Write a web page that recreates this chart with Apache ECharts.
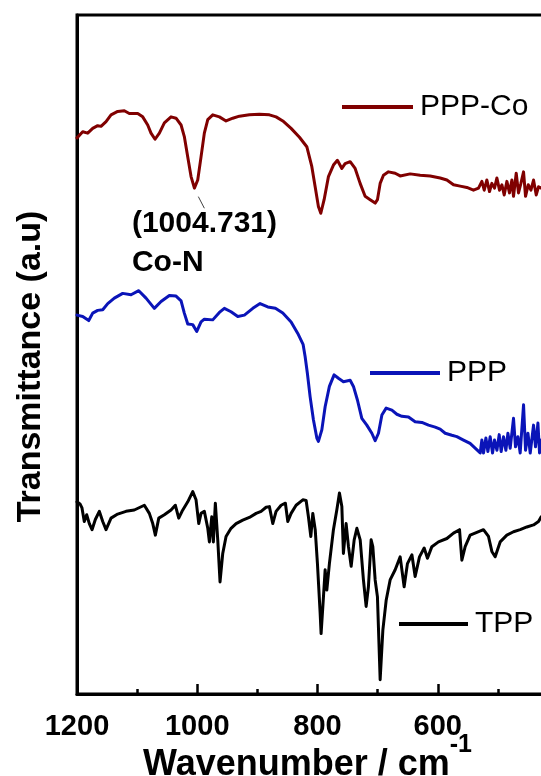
<!DOCTYPE html>
<html>
<head>
<meta charset="utf-8">
<script src="https://cdn.jsdelivr.net/npm/echarts@6/dist/echarts.min.js"></script>
<style>
  html, body { margin: 0; padding: 0; background: #ffffff; }
  #chart { width: 541px; height: 776px; }
</style>
</head>
<body>
<div id="chart"></div>
<script>
// FTIR spectra: [wavenumber (cm-1), transmittance (a.u., offset per sample)]
const pppCoSpectrum = [
  [1200,81.9],[1190.5,82.8],[1182.2,82.6],[1173.9,83.3],[1165.6,83.7],[1160.1,83.6],[1151.7,84.3],
  [1143.4,85.3],[1132.3,85.8],[1121.3,85.9],[1113,85.5],[1099,85.5],[1090.7,85.0],[1082.4,83.8],
  [1076.9,82.6],[1070.2,81.7],[1063,82.6],[1054.7,84.1],[1043.6,85.0],[1035.3,84.8],[1026.9,83.8],
  [1021.5,82.1],[1015.8,79.1],[1010.3,76.2],[1004.731,74.5],[999.2,75.7],[993.7,79.1],[988.2,82.6],
  [982.5,84.6],[974.2,85.3],[963.2,85.0],[952.1,84.4],[940.9,84.8],[929.9,85.1],[913.3,85.3],
  [896.7,85.4],[880,85.3],[868.9,85.0],[857.7,84.4],[843.9,83.3],[830,82.0],[817.8,80.6],
  [809.5,77.7],[803.9,74.7],[798.5,71.8],[794.5,70.8],[789,72.8],[781.8,76.2],[773.5,77.9],
  [766.9,78.6],[759.5,77.4],[754.1,78.1],[745.7,78.4],[737.4,77.4],[729.1,75.2],[720.8,73.3],
  [712.4,72.8],[704.1,72.3],[700.3,72.8],[695.8,75.2],[690.3,76.4],[682,76.9],[670.8,76.7],
  [662.5,76.3],[645.9,76.6],[629.2,76.4],[612.6,76.3],[596,76.0],[584.8,75.7],[573.8,75.0],
  [562.7,74.8],[551.6,74.6],[540.6,74.2],[532.2,74.5],[526.6,75.5],[522.7,74.2],[518.3,75.7],
  [513.9,74.0],[510,75.2],[505.6,74.5],[501.6,76.0],[497.3,74.2],[493.3,75.0],[489.5,73.5],
  [485,75.5],[480.7,73.8],[476.7,75.7],[474,73.3],[469.5,76.7],[465.7,73.8],[461.7,75.2],
  [457.3,76.9],[454,73.3],[449.5,75.0],[445,74.2],[440.7,75.7],[436.2,73.5],[432.4,74.7],
  [427.9,74.5],[423.7,74.9],[418,74.3]
];

const pppSpectrum = [
  [1200,55.8],[1190.5,55.6],[1180.5,55.0],[1173.9,56.1],[1165.6,56.5],[1157.2,56.6],[1148.9,57.5],
  [1137.9,58.3],[1124,59.0],[1110.1,58.8],[1097.3,59.4],[1085.2,58.3],[1071.4,56.8],[1060.2,57.8],
  [1046.4,58.7],[1035.3,58.6],[1026.9,57.9],[1021.5,56.1],[1015.8,54.5],[1007.5,54.4],[1000.8,53.4],
  [993.7,54.8],[988.2,55.2],[974.2,55.1],[963.2,56.2],[954.9,56.8],[943.8,56.3],[932.6,55.6],
  [921.6,55.8],[907.6,56.8],[895.5,57.5],[882.7,57.0],[870,56.8],[857.7,56.1],[843.9,54.8],
  [832.8,53.1],[824,51.5],[820.6,49.7],[816.8,47.2],[812.3,43.8],[806.8,40.4],[801.1,37.7],
  [798.5,37.2],[792.8,38.9],[787.3,42.3],[780.2,45.3],[772.4,47.0],[765.2,46.5],[756.9,46.0],
  [745.7,46.2],[740.2,45.3],[733.6,43.3],[726.3,40.6],[718,39.6],[709.6,38.4],[704.1,37.3],
  [698.6,38.4],[692.9,41.1],[685.8,42.1],[676.3,41.8],[668,41.2],[659.7,40.9],[648.7,40.8],
  [637.6,40.1],[626.4,40.0],[615.4,39.6],[604.3,39.3],[596,39.0],[587.6,38.4],[576.5,38.1],
  [568.2,37.9],[557.2,37.4],[546.2,36.9],[537.8,36.2],[529.4,35.5],[526.6,37.4],[523.9,35.5],
  [519.9,37.7],[516.6,35.7],[512.8,37.9],[508.9,35.5],[505.6,37.4],[501.6,35.9],[497.8,38.2],
  [494.5,35.7],[490.6,37.9],[486.7,35.9],[483.3,38.4],[479.5,36.2],[474,40.6],[470.7,36.4],
  [466.7,37.9],[462.9,35.5],[457.3,42.6],[454,35.9],[450,38.4],[446.2,35.5],[440.7,39.6],
  [437.4,36.4],[433.4,39.9],[430.7,35.5],[427.9,37.4],[421.2,36.7],[416,37.5]
];

const tppSpectrum = [
  [1200,28.3],[1195,28.0],[1191.7,27.4],[1187.9,25.4],[1183.9,26.4],[1179.5,25.1],[1175,24.2],
  [1169.5,25.7],[1162.9,26.9],[1157.2,25.4],[1151.7,24.2],[1143.4,25.9],[1132.3,26.5],[1118.5,26.9],
  [1104.7,27.1],[1088,27.8],[1079.7,26.6],[1074,25.1],[1069.7,23.4],[1064,25.9],[1054.7,26.4],
  [1043.6,27.1],[1036.5,27.8],[1030.8,25.9],[1025.3,26.9],[1015.8,28.3],[1007.5,29.8],[1002,28.6],
  [997.5,25.1],[993.7,26.6],[988.2,26.9],[982.5,24.4],[979.8,22.4],[975.9,26.1],[973.2,22.4],
  [969.9,28.1],[965.9,22.7],[962.1,16.5],[957.6,20.7],[952.1,23.2],[943.8,24.4],[935.4,25.1],
  [924.3,25.6],[913.3,26.0],[902.1,26.6],[893.8,26.9],[885.5,27.5],[880,27.6],[874.4,25.1],
  [868.9,26.9],[860.5,27.8],[853.4,28.1],[849.4,25.4],[843.9,26.6],[835.6,27.8],[824.4,28.6],
  [818.9,28.5],[815.1,26.1],[811.1,23.2],[807.8,26.6],[803.8,24.2],[800.1,19.2],[795.6,11.9],
  [794,8.9],[790.1,14.3],[787.3,18.3],[784.5,15.3],[780.2,19.2],[773.5,24.2],[767.9,27.1],
  [763.5,29.6],[759.5,27.6],[756.9,20.7],[752.4,25.1],[748.5,21.7],[744,18.8],[739,22.7],
  [734.5,24.4],[729,22.7],[723.6,16.8],[719.1,12.9],[715.3,15.8],[710.8,22.7],[708,21.7],
  [704.1,16.8],[700.3,14.3],[695.8,2.1],[691.3,9.4],[685.8,13.8],[679.2,16.8],[670.8,18.3],
  [662.5,20.2],[655.9,15.8],[650.4,19.2],[643,20.5],[637.6,17.3],[630.4,20.2],[622.6,21.5],
  [617.1,20.0],[609.8,21.7],[598.8,22.4],[584.8,22.9],[573.8,23.7],[563.8,24.2],[559.9,19.7],
  [554.4,21.7],[546.1,23.4],[535,23.8],[524,24.2],[515.6,23.2],[510,21.0],[504.5,20.2],
  [496.2,22.4],[485.1,23.4],[474,23.9],[462.9,24.2],[451.8,24.6],[440.7,24.9],[432.4,25.4],
  [427.9,26.1],[416,27.0]
];

// Co-N band of PPP-Co
const coNPeak = [1004.731, 74.5];
const coNLeader = [[998.2, 73.25], [988.2, 71.54]];

const seriesNames = ['PPP-Co', 'PPP', 'TPP'];
const seriesColors = ['#800000', '#0a14b8', '#000000'];
const xTickLabels = ['1200', '1000', '800', '600'];

const FONT = "'Liberation Sans', Arial, sans-serif";

const chart = echarts.init(document.getElementById('chart'), null, { renderer: 'canvas' });

function legendAt(name, left, top, iconWidth) {
  return {
    data: [name],
    left: left,
    top: top,
    padding: 0,
    icon: 'rect',
    itemWidth: iconWidth,
    itemHeight: 4,
    itemGap: 0,
    selectedMode: false,
    textStyle: { fontFamily: FONT, fontSize: 30, lineHeight: 30, color: '#000', padding: [0, 0, 0, 2] }
  };
}

chart.setOption({
  backgroundColor: '#ffffff',
  animation: false,
  grid: {
    left: 77, right: -17, top: 15, bottom: 82,
    outerBoundsMode: 'none',
    containLabel: false,
    show: true, borderColor: '#000', borderWidth: 3, backgroundColor: 'transparent'
  },
  legend: [
    legendAt(seriesNames[0], 342, 92, 71),
    legendAt(seriesNames[1], 370, 358, 70),
    legendAt(seriesNames[2], 399, 609, 69)
  ],
  xAxis: {
    type: 'value',
    inverse: true,
    min: 400,
    max: 1200,
    interval: 200,
    name: '{t|Wavenumber / cm}{s|-1}',
    nameLocation: 'middle',
    nameGap: 53,
    nameMoveOverlap: false,
    nameTextStyle: {
      padding: [0, 20, 0, 0],
      rich: {
        t: { fontFamily: FONT, fontSize: 36, fontWeight: 'bold', color: '#000', lineHeight: 36 },
        s: { fontFamily: FONT, fontSize: 25, fontWeight: 'bold', color: '#000', lineHeight: 25, padding: [0, 0, 39, 0] }
      }
    },
    axisLine: { show: true, lineStyle: { color: '#000', width: 3 } },
    axisTick: { show: true, inside: true, length: 10, lineStyle: { color: '#000', width: 2.5 } },
    minorTick: { show: true, splitNumber: 2, length: 5, lineStyle: { color: '#000', width: 2.5 } },
    splitLine: { show: false },
    minorSplitLine: { show: false },
    axisLabel: {
      margin: 18,
      fontFamily: FONT, fontSize: 29, fontWeight: 'bold', color: '#000',
      formatter: function (v) { return xTickLabels.indexOf(String(v)) >= 0 ? String(v) : ''; }
    }
  },
  yAxis: {
    type: 'value',
    min: 0,
    max: 100,
    name: 'Transmittance (a.u)',
    nameLocation: 'middle',
    nameGap: 29,
    nameMoveOverlap: false,
    nameTextStyle: {
      fontFamily: FONT, fontSize: 34, fontWeight: 'bold', color: '#000', lineHeight: 34,
      padding: [0, 24, 0, 0]
    },
    axisLine: { show: true, lineStyle: { color: '#000', width: 3 } },
    axisTick: { show: false },
    axisLabel: { show: false },
    splitLine: { show: false }
  },
  series: [
    {
      name: seriesNames[0], type: 'line', data: pppCoSpectrum, showSymbol: false,
      color: seriesColors[0], lineStyle: { width: 3, join: 'round', cap: 'round' },
      markPoint: {
        silent: true,
        symbol: 'circle', symbolSize: 1,
        itemStyle: { color: 'transparent' },
        data: [{ coord: coNPeak }],
        label: {
          show: true,
          position: [-62, 17],
          align: 'left', verticalAlign: 'top',
          formatter: '{a|(' + coNPeak[0] + ')}\n{a|Co-N}',
          rich: { a: { fontFamily: FONT, fontSize: 30, fontWeight: 'bold', color: '#000', lineHeight: 39 } }
        }
      },
      markLine: {
        silent: true, symbol: ['none', 'none'],
        label: { show: false },
        lineStyle: { color: '#404040', width: 1, type: 'solid' },
        data: [[{ coord: coNLeader[0] }, { coord: coNLeader[1] }]]
      }
    },
    {
      name: seriesNames[1], type: 'line', data: pppSpectrum, showSymbol: false,
      color: seriesColors[1], lineStyle: { width: 3, join: 'round', cap: 'round' }
    },
    {
      name: seriesNames[2], type: 'line', data: tppSpectrum, showSymbol: false,
      color: seriesColors[2], lineStyle: { width: 3, join: 'round', cap: 'round' }
    }
  ]
});
</script>
</body>
</html>
